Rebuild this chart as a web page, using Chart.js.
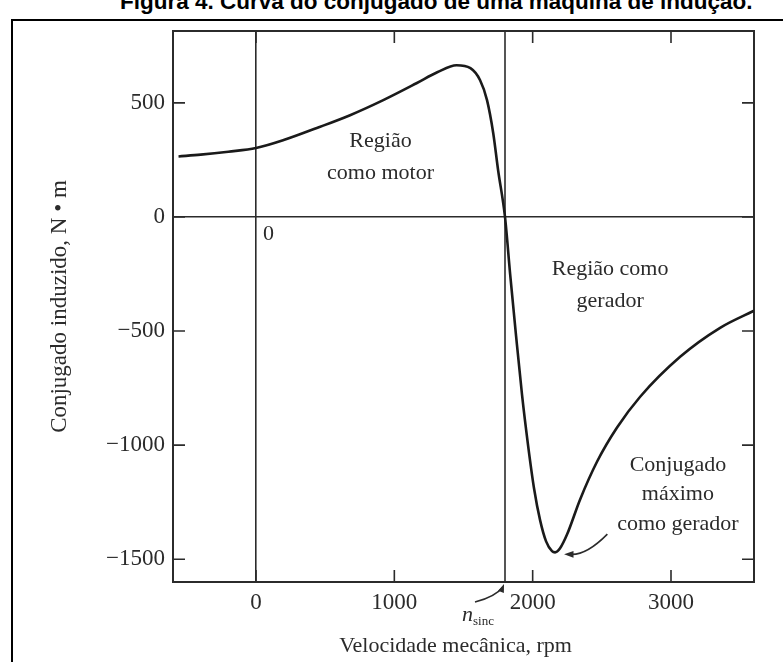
<!DOCTYPE html>
<html>
<head>
<meta charset="utf-8">
<script src="https://cdn.jsdelivr.net/npm/chart.js@4/dist/chart.umd.min.js"></script>
<style>
  html, body { margin: 0; padding: 0; background: #fff; overflow: hidden; }
  #wrap { position: relative; width: 783px; height: 662px; }
  #chart { position: absolute; left: 0; top: 0; }
  #frame {
    position: absolute; left: 11px; top: 19px; width: 800px; height: 700px;
    border-left: 2px solid #000; border-top: 2px solid #000; pointer-events: none;
  }
  #title {
    position: absolute; left: 120px; top: -9px; white-space: nowrap;
    font: bold 22.5px "Liberation Sans", Arial, sans-serif; line-height: 22px; color: #000;
  }
</style>
</head>
<body>
<div id="wrap">
  <div id="title">Figura 4. Curva do conjugado de uma máquina de indução.</div>
  <canvas id="chart" width="783" height="662"></canvas>
  <div id="frame"></div>
</div>
<script>
// curve: mechanical speed (rpm) vs induced torque (N.m)
const speed = [-560, -400, -200, 0, 200, 440, 680, 920, 1160, 1310, 1450, 1550, 1620, 1670, 1715,
  1750, 1800, 1837, 1880, 1923, 1967, 2010, 2054, 2097, 2140, 2162, 2198, 2249, 2343, 2466, 2610,
  2777, 3066, 3355, 3600];
const torque = [265, 273, 286, 302, 337, 390, 446, 512, 586, 634, 665, 652, 599, 512, 367,
  206, 0, -249, -521, -779, -1002, -1190, -1330, -1422, -1465, -1470, -1452, -1391, -1238, -1072, -923,
  -788, -613, -486, -411];

const xTicks = [0, 1000, 2000, 3000];
const yTicks = [-1500, -1000, -500, 0, 500];
const nSync = 1800;
const maxTorquePoint = { x: 2162, y: -1470 };

const SERIF = '"Liberation Serif", "Times New Roman", serif';
const INK = "#2b2b2b";

function fmtTick(v) {
  return v < 0 ? "\u2212" + Math.abs(v) : String(v);
}

function arrowHead(ctx, x, y, angle, size) {
  ctx.beginPath();
  ctx.moveTo(x, y);
  ctx.lineTo(x - size * Math.cos(angle - 0.35), y - size * Math.sin(angle - 0.35));
  ctx.lineTo(x - size * Math.cos(angle + 0.35), y - size * Math.sin(angle + 0.35));
  ctx.closePath();
  ctx.fill();
}

const decorPlugin = {
  id: "decor",
  beforeDatasetsDraw(chart) {
    const { ctx, chartArea: a, scales } = chart;
    const xs = scales.x, ys = scales.y;
    ctx.save();
    ctx.strokeStyle = INK;
    ctx.lineWidth = 1.6;
    // synchronous speed line
    const xn = xs.getPixelForValue(nSync);
    ctx.beginPath();
    ctx.moveTo(xn, a.top);
    ctx.lineTo(xn, a.bottom);
    ctx.stroke();
    // inward tick marks on all four sides
    const len = 12;
    ctx.beginPath();
    for (const v of xTicks) {
      const px = xs.getPixelForValue(v);
      ctx.moveTo(px, a.bottom); ctx.lineTo(px, a.bottom - len);
      ctx.moveTo(px, a.top); ctx.lineTo(px, a.top + len);
    }
    for (const v of yTicks) {
      const py = ys.getPixelForValue(v);
      ctx.moveTo(a.left, py); ctx.lineTo(a.left + len, py);
      ctx.moveTo(a.right, py); ctx.lineTo(a.right - len, py);
    }
    ctx.stroke();
    // plot frame
    ctx.lineWidth = 2;
    ctx.strokeRect(a.left, a.top, a.right - a.left, a.bottom - a.top);
    ctx.restore();
  },
  afterDatasetsDraw(chart) {
    const { ctx, chartArea: a, scales } = chart;
    const xs = scales.x, ys = scales.y;
    ctx.save();
    ctx.fillStyle = INK;
    ctx.strokeStyle = INK;
    ctx.font = "22px " + SERIF;
    ctx.textAlign = "center";
    ctx.textBaseline = "middle";

    ctx.fillText("Região", xs.getPixelForValue(900), ys.getPixelForValue(330));
    ctx.fillText("como motor", xs.getPixelForValue(900), ys.getPixelForValue(192));

    ctx.fillText("Região como", xs.getPixelForValue(2560), ys.getPixelForValue(-230));
    ctx.fillText("gerador", xs.getPixelForValue(2560), ys.getPixelForValue(-370));

    ctx.fillText("Conjugado", xs.getPixelForValue(3050), ys.getPixelForValue(-1090));
    ctx.fillText("máximo", xs.getPixelForValue(3050), ys.getPixelForValue(-1215));
    ctx.fillText("como gerador", xs.getPixelForValue(3050), ys.getPixelForValue(-1345));

    ctx.fillText("0", xs.getPixelForValue(90), ys.getPixelForValue(-75));

    // x axis title, sitting a little left of the plot centre as in the figure
    ctx.fillText("Velocidade mecânica, rpm", (a.left + a.right) / 2 - 8, a.bottom + 64);

    // arrow to the maximum generator torque
    const tx = xs.getPixelForValue(maxTorquePoint.x) + 9;
    const ty = ys.getPixelForValue(maxTorquePoint.y) + 2;
    const sx = xs.getPixelForValue(2540), sy = ys.getPixelForValue(-1390);
    ctx.lineWidth = 1.6;
    ctx.beginPath();
    ctx.moveTo(sx, sy);
    ctx.quadraticCurveTo(sx - 20, ty, tx + 8, ty);
    ctx.stroke();
    arrowHead(ctx, tx, ty, Math.PI, 10);

    // n_sinc label and arrow
    const xn = xs.getPixelForValue(nSync);
    const ly = a.bottom + 33;
    const lx = xn - 34;
    ctx.font = "italic 22px " + SERIF;
    ctx.textAlign = "right";
    ctx.fillText("n", lx + 2, ly);
    ctx.font = "13px " + SERIF;
    ctx.textAlign = "left";
    ctx.fillText("sinc", lx + 2, ly + 7);
    ctx.beginPath();
    ctx.moveTo(lx + 4, ly - 13);
    ctx.quadraticCurveTo(xn - 10, ly - 18, xn - 2, a.bottom + 5);
    ctx.stroke();
    arrowHead(ctx, xn - 1, a.bottom + 2, -Math.PI / 2.6, 9);
    ctx.restore();
  }
};

new Chart(document.getElementById("chart"), {
  type: "line",
  data: {
    datasets: [{
      data: speed.map((s, i) => ({ x: s, y: torque[i] })),
      borderColor: "#1a1a1a",
      borderWidth: 2.6,
      pointRadius: 0,
      fill: false,
      cubicInterpolationMode: "monotone"
    }]
  },
  options: {
    responsive: false,
    animation: false,
    layout: { padding: { left: 0, top: 31, right: 29, bottom: 0 } },
    plugins: { legend: { display: false }, tooltip: { enabled: false } },
    scales: {
      x: {
        type: "linear",
        min: -600,
        max: 3600,
        afterBuildTicks: (s) => { s.ticks = xTicks.map((v) => ({ value: v })); },
        afterFit: (s) => { s.height = 80; },
        border: { display: false },
        grid: {
          drawTicks: false,
          lineWidth: 1.6,
          color: (c) => (c.tick && c.tick.value === 0 ? INK : "rgba(0,0,0,0)")
        },
        ticks: {
          padding: 7,
          color: INK,
          font: { family: SERIF, size: 23 },
          callback: (v) => fmtTick(v)
        },
        title: { display: false }
      },
      y: {
        type: "linear",
        min: -1600,
        max: 815,
        afterBuildTicks: (s) => { s.ticks = yTicks.map((v) => ({ value: v })); },
        afterFit: (s) => { s.width = 173; },
        border: { display: false },
        grid: {
          drawTicks: false,
          lineWidth: 1.6,
          color: (c) => (c.tick && c.tick.value === 0 ? INK : "rgba(0,0,0,0)")
        },
        ticks: {
          padding: 8,
          color: INK,
          font: { family: SERIF, size: 23 },
          callback: (v) => fmtTick(v)
        },
        title: {
          display: true,
          text: "Conjugado induzido, N \u2022 m",
          color: INK,
          font: { family: SERIF, size: 23 },
          padding: { top: 46, bottom: 0 }
        }
      }
    }
  },
  plugins: [decorPlugin]
});
</script>
</body>
</html>
